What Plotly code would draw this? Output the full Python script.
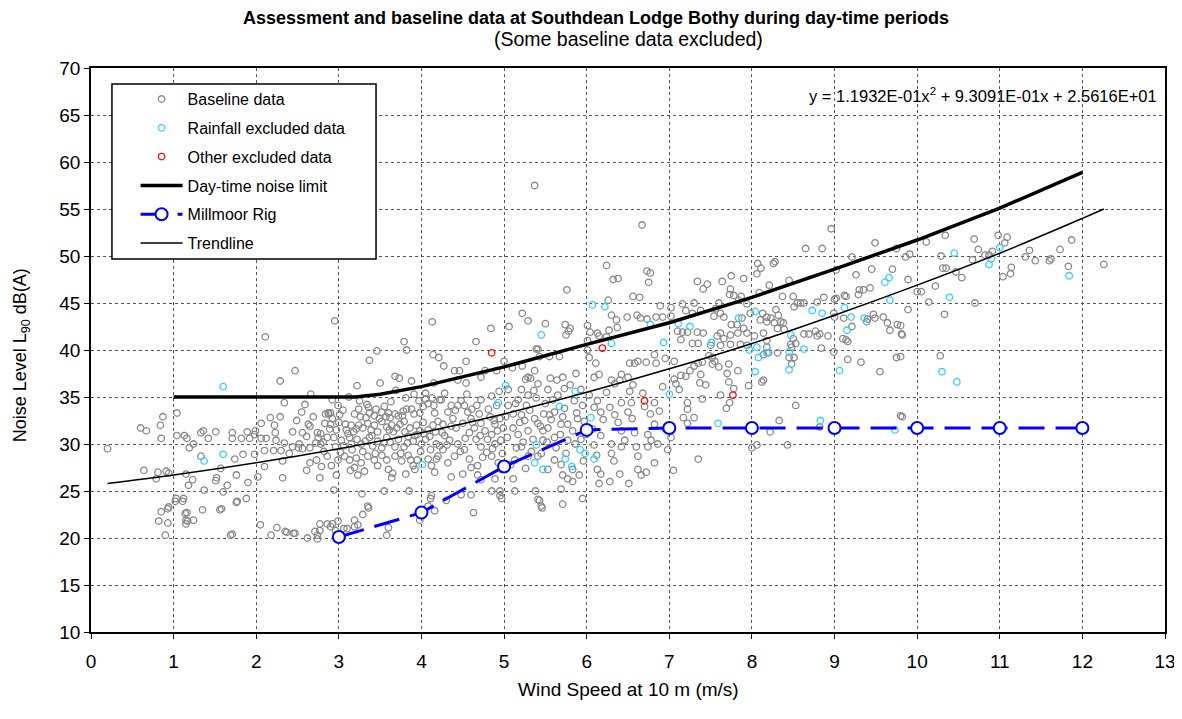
import plotly.graph_objects as go

# ---------------- data ----------------
baseline_pts = [
    # x < 1.6
    (0.20,29.5),(0.60,31.7),(0.67,31.4),(0.64,27.2),(0.79,26.3),(0.81,27.0),(0.84,32.0),(0.85,30.6),(0.87,32.9),
    (0.91,27.1),(0.94,26.9),(1.04,33.3),(1.04,30.9),(1.13,30.9),(1.16,30.6),(1.24,30.0),(1.19,29.6),(1.33,31.2),
    (1.36,31.4),(1.42,30.6),(1.51,31.3),(1.23,26.2),(1.18,25.6),(1.15,26.8),(1.12,24.2),(1.03,24.2),(0.94,23.3),
    (0.85,22.8),(0.82,21.8),(0.93,21.6),(0.90,20.3),(1.16,22.7),(1.15,21.9),(1.15,21.5),(1.24,21.9),(1.35,23.0),
    (1.37,25.1),(1.52,26.4),(1.51,26.1),(1.58,23.1),(1.33,28.7),(1.57,27.4),(1.60,24.9),(0.93,23.1),(1.02,23.9),
    (1.11,23.9),(1.14,22.6),(1.56,23.0),(1.69,20.3),(1.76,23.8),(1.17,21.8),
    # x 1.6 - 4.2
    (2.95,43.1),(2.11,41.4),(3.46,39.9),(3.37,38.9),(2.47,37.8),(2.29,36.7),(2.66,35.3),(2.34,34.4),(2.59,34.2),
    (3.12,35.0),(3.22,36.2),(3.68,37.2),(3.73,37.0),(3.88,36.7),(3.50,36.5),(3.69,35.7),(3.81,34.9),(3.91,35.3),
    (4.05,35.4),(4.15,36.5),(4.13,34.9),(2.92,34.7),(3.34,34.2),
    (2.87,33.3),(2.90,33.3),(3.01,33.1),(2.92,32.7),(3.19,33.2),(3.24,33.7),(3.26,32.9),(3.36,33.9),(3.37,33.3),
    (3.43,33.0),(3.45,33.7),(3.52,33.4),(3.55,34.0),(3.57,32.9),(3.60,33.3),(3.62,32.8),(3.68,33.2),(3.72,33.0),
    (3.78,33.5),(3.82,33.7),(3.88,33.7),(3.91,33.2),(3.98,33.3),(4.02,34.0),(4.05,34.8),(4.08,34.3),(4.15,34.1),
    (4.16,33.3),(4.22,34.7),(2.84,33.2),(2.88,33.2),(2.17,32.8),(2.29,32.9),(2.49,32.5),(2.06,32.2),(2.22,32.0),
    (2.63,32.1),(2.65,31.9),
    (2.83,32.2),(2.90,32.1),(2.97,31.5),(3.00,32.3),(3.08,32.1),(3.09,31.5),(3.15,32.0),(3.18,31.3),(3.24,32.0),
    (3.29,31.7),(3.35,32.2),(3.39,31.5),(3.43,32.0),(3.47,31.3),(3.52,32.4),(3.58,31.8),(3.64,32.0),(3.66,31.3),
    (3.74,32.1),(3.79,32.4),(3.80,31.3),(3.86,31.7),(3.94,32.0),(3.98,31.4),(4.02,32.3),(4.08,31.5),(4.14,32.0),
    (4.20,32.4),
    (1.71,31.2),(1.71,30.6),(1.82,30.6),(1.89,31.3),(1.92,30.6),(1.99,31.4),(1.98,31.0),(2.06,30.6),(2.12,30.6),
    (2.23,31.2),(2.24,30.4),(2.34,30.1),(2.44,31.3),(2.56,31.2),(2.52,30.0),(2.44,29.7),(2.74,31.2),(2.78,31.1),
    (2.72,30.1),(2.78,30.0),
    (2.75,30.7),(2.81,30.2),(2.86,30.7),(2.94,30.7),(2.96,29.7),(3.03,30.4),(3.06,29.8),(3.13,30.7),(3.15,30.0),
    (3.22,30.5),(3.27,30.0),(3.32,30.3),(3.37,30.7),(3.41,29.8),(3.47,30.3),(3.52,29.6),(3.58,30.7),(3.62,30.2),
    (3.68,29.7),(3.72,30.5),(3.79,29.7),(3.84,30.8),(3.90,30.3),(3.95,31.0),(4.00,30.0),(4.05,30.5),(4.10,30.8),
    (4.18,30.0),(4.22,29.8),
    (2.65,29.6),(2.56,29.5),(2.51,29.6),(2.40,29.0),(2.30,29.3),(2.21,29.3),(2.10,29.3),(1.98,28.9),(1.84,28.9),
    (1.74,28.4),(2.10,27.6),(2.32,28.2),(2.65,28.0),(2.73,28.3),(2.79,27.6),(2.86,28.7),(2.91,27.7),(2.99,28.3),
    (2.97,26.7),(3.07,28.7),(3.13,28.3),(3.14,27.2),(3.21,28.5),(3.19,27.5),(3.27,28.0),(3.31,27.1),(3.35,28.7),
    (3.43,28.3),(3.47,27.7),(3.52,28.8),(3.58,28.3),(3.60,27.3),(3.65,26.9),(3.68,28.7),(3.76,28.2),(3.81,26.8),
    (3.84,28.8),(3.90,27.7),(3.95,28.3),(3.99,29.2),(4.08,28.4),(4.12,27.7),(4.18,28.4),(4.16,27.0),
    (2.55,33.4),(2.61,30.8),(2.69,32.9),(2.82,29.2),(2.89,31.6),(3.02,29.1),(3.05,33.6),(3.11,31.1),(3.16,29.4),
    (3.21,31.6),(3.29,29.2),(3.33,32.8),(3.40,30.9),(3.44,29.0),(3.49,32.7),(3.55,30.1),(3.61,31.5),(3.70,31.7),
    (3.75,29.0),(3.77,33.0),(3.83,30.1),(3.92,30.9),(3.97,34.6),(4.03,31.1),(4.11,29.4),(4.17,31.3),(3.25,34.6),
    (3.63,34.5),(2.99,34.1),(3.87,28.3),
    (1.76,26.7),(1.65,25.6),(1.90,25.9),(2.02,26.5),(2.32,26.4),(2.61,27.2),(2.77,26.4),(2.94,25.1),(3.23,26.7),
    (3.28,24.7),(3.55,25.0),(3.64,26.4),(3.85,25.0),(3.92,27.3),(1.77,23.9),(1.88,24.2),(3.35,23.4),(4.12,24.5),
    (1.71,20.4),(2.05,21.4),(2.18,20.3),(2.25,21.1),(2.35,20.7),(2.37,20.6),(2.45,20.5),(2.47,20.5),(2.62,20.0),
    (2.74,19.9),(2.74,20.3),(2.71,20.7),(2.77,20.8),(2.77,21.5),(2.86,21.5),(2.90,21.2),(2.92,21.5),(2.99,21.8),
    (2.96,20.8),(3.06,21.0),(3.10,21.0),(3.19,21.2),(3.19,21.9),(3.23,21.4),(3.29,22.5),(3.36,23.2),(3.60,21.1),
    (3.58,20.3),(3.98,21.9),(4.08,23.4),(4.16,22.9),(4.11,24.2),
    # x 4.2 - 7
    (5.37,57.5),(6.67,53.3),(6.24,49.0),(6.73,48.4),(6.77,48.2),(6.32,47.5),(6.38,47.6),(6.75,47.2),(5.76,46.4),
    (6.56,45.7),(6.64,45.6),(6.26,45.3),(6.30,43.7),(6.36,43.2),(6.49,43.5),(6.61,43.7),(6.65,43.4),(6.73,43.3),
    (6.84,43.5),(6.92,43.5),(7.02,43.6),(6.89,44.7),(7.02,44.5),(5.22,43.9),(5.29,43.1),(5.50,42.8),(5.74,42.7),
    (5.78,42.0),(5.75,41.6),(5.80,42.3),(6.01,42.6),(6.04,41.9),(6.13,41.8),(6.15,41.5),(6.24,41.4),(6.27,42.1),
    (6.37,42.4),(6.01,41.0),(6.01,40.0),(5.06,42.5),(4.84,42.3),(4.13,43.0),(3.79,40.9),(3.82,40.0),(4.66,40.9),
    (5.39,40.1),(5.41,40.1),(5.43,39.3),(5.55,39.3),(5.67,39.3),(4.14,39.5),(4.21,39.2),(4.27,38.3),(4.54,38.8),
    (4.40,37.8),(4.46,37.8),(4.91,37.8),(5.00,38.8),(5.10,38.1),(5.22,38.3),(5.29,37.1),(5.26,36.9),(5.32,37.0),
    (5.37,37.8),(5.56,37.0),(5.64,36.8),(5.71,37.1),(5.73,35.9),(5.87,37.5),(6.03,39.2),(6.11,38.6),(6.09,37.1),
    (6.15,37.4),(6.30,36.8),(6.34,36.4),(6.40,36.8),(6.52,38.6),(6.58,38.6),(6.62,38.8),(6.72,38.7),(6.82,39.5),
    (6.84,38.6),(6.95,39.1),(7.06,38.8),(6.50,37.1),(6.56,36.3),(6.52,35.6),(6.42,37.4),(6.92,36.1),(7.08,36.4),
    (6.54,34.4),(6.77,33.2),(6.82,34.4),(6.70,34.0),(7.06,36.9),(4.44,36.8),(4.77,37.8),(4.72,37.1),(4.54,36.5),
    (4.24,34.7),(4.36,34.1),(4.52,34.1),(4.61,33.7),(4.72,34.7),(4.85,35.1),(4.91,34.1),(5.05,34.1),(5.17,34.7),
    (5.21,33.1),(5.27,34.1),(5.29,35.2),(5.39,34.9),(5.48,33.2),(5.61,33.4),(5.71,32.9),(5.85,34.6),(5.95,34.1),
    (6.09,33.9),(6.13,34.6),(6.17,33.4),(6.28,33.9),(6.34,33.1),(6.42,34.4),(6.50,33.4),(4.60,32.7),(4.72,32.2),
    (4.89,32.1),(4.99,31.7),(5.11,31.7),(5.25,32.5),(5.37,32.7),(5.41,32.2),(5.47,31.4),(5.55,33.1),(5.69,32.1),
    (5.83,31.4),(5.93,30.5),(5.99,31.0),(6.09,29.9),(6.17,30.9),(6.30,30.0),(6.42,31.4),(6.58,31.2),(6.74,31.0),
    (6.86,30.0),(7.02,30.7),(6.82,32.1),
    (4.28,35.4),(4.32,33.4),(4.38,32.7),(4.42,31.7),(4.48,34.6),(4.50,32.2),(4.56,33.4),(4.58,31.2),(4.64,31.7),
    (4.66,30.5),(4.70,33.2),(4.77,31.4),(4.80,30.5),(4.83,32.9),(4.85,31.0),(4.92,31.4),(4.95,32.7),(4.96,30.4),
    (4.28,30.9),(4.34,30.4),(4.44,30.0),(4.26,32.1),(4.44,34.1),(4.26,29.4),(4.40,28.7),(4.52,29.4),(4.58,28.4),
    (4.72,29.7),(4.79,29.1),(4.89,30.0),(5.05,35.8),(5.11,33.2),(5.17,31.0),(5.29,31.4),(5.35,30.5),(5.53,31.7),
    (5.61,30.7),(5.77,32.1),(5.77,30.4),(5.89,32.7),(5.21,35.8),(5.53,35.8),(5.59,34.7),(5.93,35.8),(5.41,36.4),
    (4.25,31.2),(4.31,29.9),(4.36,31.9),(4.41,33.6),(4.47,29.2),(4.53,30.6),(4.55,35.3),(4.62,32.3),(4.67,34.1),
    (4.71,30.9),(4.74,28.6),(4.81,33.7),(4.86,29.5),(4.88,32.5),(4.94,35.6),(4.98,29.0),(5.02,32.9),(5.04,30.7),
    (5.08,27.8),(5.14,34.3),(5.15,29.6),(5.19,32.3),(5.23,30.2),(5.26,27.4),(5.31,33.6),(5.33,29.2),(5.36,35.7),
    (5.44,31.9),(5.45,29.0),(5.50,34.3),(5.52,30.2),(5.57,32.6),(5.63,29.6),(5.65,35.2),(5.68,31.0),(5.73,33.8),
    (5.75,29.0),(5.80,36.3),(5.86,30.0),(5.88,33.3),(5.96,28.2),(5.97,32.4),(6.03,35.2),(6.07,31.6),(6.12,28.8),
    (6.20,32.6),(6.24,35.5),(6.33,28.2),(6.38,32.3),(6.46,30.4),(6.55,32.7),(6.60,29.7),(6.68,35.4),(6.78,30.4),
    (6.88,33.5),(6.95,31.6),
    (4.20,28.7),(4.32,28.0),(4.36,26.5),(4.50,26.8),(4.60,27.5),(4.68,27.7),(4.85,28.7),(4.93,28.0),(4.68,26.7),
    (4.72,26.2),(4.89,26.3),(4.97,27.3),(5.11,26.3),(5.13,28.3),(5.21,29.7),(5.29,28.7),(5.41,28.7),(5.47,30.4),
    (5.53,27.3),(5.61,28.3),(5.69,27.8),(5.71,26.7),(5.83,27.3),(5.77,26.3),(5.83,26.0),(5.91,26.7),(6.13,27.3),
    (6.15,25.8),(6.17,26.8),(6.28,26.0),(6.40,26.8),(6.51,25.8),(6.62,27.3),(6.66,26.7),(6.72,27.0),(6.30,29.0),
    (6.42,29.7),(6.62,28.7),(6.74,29.7),(6.82,28.0),(6.98,29.4),(7.05,27.2),(4.30,24.0),(4.48,24.6),(4.60,24.6),
    (4.85,25.0),(4.95,25.0),(4.95,24.5),(5.13,25.0),(5.38,25.0),(5.41,24.1),(5.45,23.4),(5.71,23.6),(5.69,25.2),
    (5.95,24.2),(4.63,22.7),(4.97,24.2),(5.43,24.0),(5.46,23.2),
    # x 7 - 9.8
    (8.96,52.9),(8.65,50.8),(8.85,50.8),(9.49,51.4),(9.75,50.8),(9.21,49.9),(9.02,48.5),(9.26,48.0),(9.45,48.6),
    (9.70,48.6),(9.30,46.4),(9.35,46.4),(9.29,45.9),(9.43,46.6),(9.12,45.8),(9.14,45.7),(9.00,45.4),(9.02,45.5),
    (8.87,45.6),(8.79,45.1),(8.63,45.0),(8.55,45.0),(8.59,45.0),(8.51,44.6),(8.50,45.7),(8.37,45.7),(8.45,47.4),
    (8.21,46.9),(8.09,46.1),(8.07,49.2),(8.11,48.7),(8.06,48.1),(8.28,49.4),(8.26,49.2),(7.90,47.6),(7.75,47.9),
    (7.64,47.3),(7.74,46.5),(7.46,47.0),(7.41,46.5),(7.34,47.3),(7.60,45.0),(7.73,45.9),(7.78,45.8),(7.87,45.7),
    (7.84,45.3),(7.56,44.4),(7.62,43.9),(7.54,43.6),(7.66,43.5),(7.30,45.0),(7.38,44.2),(7.28,43.9),(7.20,44.2),
    (7.16,44.9),(7.94,44.9),(7.98,43.9),(7.88,43.4),(7.90,42.3),(7.82,42.7),(7.75,42.7),(7.94,41.8),(7.83,41.8),
    (7.74,41.6),(7.66,41.2),(7.62,41.8),(7.58,41.5),(7.41,41.8),(7.34,41.9),(7.22,41.9),(7.16,41.9),(7.10,42.0),
    (8.13,43.9),(8.18,43.5),(8.29,44.3),(8.32,43.7),(8.27,42.9),(8.18,43.0),(8.35,43.0),(8.38,42.9),(8.39,42.2),
    (8.31,42.3),(8.23,43.4),(8.10,43.2),(8.14,41.8),(8.18,41.0),(8.18,40.3),(8.20,39.7),(8.14,39.5),(8.31,39.7),
    (8.03,41.5),(7.94,40.5),(7.86,40.6),(7.74,40.6),(7.62,40.5),(7.50,40.5),(7.35,40.7),(7.28,40.7),(7.14,41.1),
    (8.50,41.2),(8.47,40.6),(8.53,40.7),(8.48,40.3),(8.51,39.2),(8.45,39.2),(8.48,38.5),(8.63,41.7),(8.69,41.7),
    (8.77,42.0),(8.79,41.5),(8.82,41.7),(8.92,41.5),(8.84,40.2),(8.99,39.8),(9.16,39.0),(9.32,38.7),(8.99,43.9),
    (9.00,43.5),(9.11,43.4),(9.10,41.2),(9.14,41.1),(9.16,40.9),(9.21,42.5),(9.40,43.3),(9.39,43.0),(9.47,43.8),
    (9.49,43.4),(9.59,43.5),(9.64,42.9),(9.67,42.1),(9.76,42.7),(9.81,41.7),(9.75,39.2),(9.55,37.7),(7.40,38.7),
    (7.35,38.6),(7.30,38.3),(7.25,37.8),(7.20,37.2),(7.14,37.3),(7.12,35.8),(7.52,38.5),(7.52,39.2),(7.48,39.4),
    (7.55,38.8),(7.60,38.2),(7.72,38.5),(7.70,37.5),(7.83,37.8),(7.72,36.6),(7.78,35.9),(7.62,35.2),(7.73,34.4),
    (7.69,33.8),(7.40,34.8),(7.22,34.4),(7.22,33.7),(7.17,32.8),(7.22,32.2),(7.30,32.8),(7.37,36.5),(7.44,36.3),
    (7.38,37.4),(8.14,36.8),(8.12,36.6),(7.96,36.2),(8.53,34.1),(8.33,32.5),(8.22,31.3),(8.06,29.9),(8.00,29.6),
    (8.43,29.9),(8.82,31.8),(9.80,33.0),(7.35,28.4),
    # x > 9.8
    (10.34,52.2),(10.11,51.5),(10.69,51.8),(10.98,52.2),(11.09,52.0),(11.06,51.4),(10.74,50.7),(10.82,50.1),
    (10.91,50.5),(10.87,50.1),(10.67,49.6),(10.29,50.0),(9.86,49.9),(9.91,50.2),(10.31,48.7),(10.35,48.7),
    (10.47,48.3),(10.54,47.7),(9.89,47.5),(10.22,46.8),(10.00,46.2),(10.05,46.2),(10.14,45.1),(10.70,45.0),
    (9.89,44.3),(10.33,43.8),(9.80,42.6),(9.82,41.6),(10.28,39.4),(9.80,39.3),(9.82,32.9),(11.36,50.6),
    (11.31,49.9),(11.43,49.5),(11.60,49.5),(11.62,49.7),(11.73,50.7),(11.87,51.7),(11.83,48.9),(11.14,48.8),
    (11.04,47.8),(11.13,48.1),(12.26,49.1),
]

rainfall_pts = [
    (1.60,36.1),(1.60,28.9),(1.37,28.2),(4.01,27.8),(6.07,44.8),(6.22,44.6),(5.45,41.6),(6.77,42.7),(6.93,40.8),
    (6.30,40.7),(5.02,36.2),(4.93,34.4),(5.86,35.6),(5.67,34.0),(6.05,32.8),(7.00,35.3),(5.39,29.9),(5.37,28.0),
    (5.47,27.3),(5.74,28.4),(5.82,27.6),(5.92,29.4),(5.98,29.0),(6.09,28.4),(9.66,47.7),(9.61,47.2),(9.67,45.3),
    (9.12,44.5),(9.20,43.5),(9.36,43.4),(9.15,42.1),(8.85,43.9),(8.73,44.2),(8.47,41.6),(8.63,40.1),(8.45,39.8),
    (8.45,37.9),(9.06,37.8),(7.84,43.4),(8.04,44.1),(7.97,40.0),(8.06,40.3),(8.08,39.2),(8.18,39.7),(8.04,37.7),
    (7.51,40.8),(7.11,42.8),(7.25,42.5),(7.59,32.2),(8.83,32.5),(9.73,31.5),(10.45,50.3),(11.00,50.9),
    (10.90,49.7),(10.87,49.1),(10.39,45.6),(11.84,47.9),(10.30,37.7),(10.48,36.6),
]

other_pts = [(4.85,39.7),(6.19,40.2),(6.70,34.6),(7.77,35.2)]

limit_x = [1, 2, 3, 3.2, 3.5, 4, 5, 6, 7, 8, 9, 10, 11, 12]
limit_y = [35, 35, 35, 35, 35.3, 36.1, 38.2, 40.6, 42.9, 45.6, 48.6, 51.7, 55.1, 58.9]

millmoor_x = [3, 4, 5, 6, 7, 8, 9, 10, 11, 12]
millmoor_y = [20.1, 22.7, 27.6, 31.5, 31.7, 31.7, 31.7, 31.7, 31.7, 31.7]

trend_x = [0.2, 1, 2, 3, 4, 5, 6, 7, 8, 9, 10, 11, 12, 12.26]
trend_y = [25.8, 26.7, 28.0, 29.5, 31.2, 33.2, 35.5, 38.0, 40.7, 43.7, 46.9, 50.3, 54.0, 55.0]

x_ticks = list(range(0, 14))
y_ticks = list(range(10, 71, 5))

title_text = "<b>Assessment and baseline data at Southdean Lodge Bothy during day-time periods</b>"
subtitle_text = "(Some baseline data excluded)"
equation_text = "y = 1.1932E-01x<sup>2</sup> + 9.3091E-01x + 2.5616E+01"

# ---------------- figure ----------------
FONT = "Arial, Liberation Sans, sans-serif"
fig = go.Figure()

def open_marker(color, size=6.5):
    return dict(symbol="circle-open", size=size, color=color, line=dict(width=1.3, color=color))

fig.add_trace(go.Scatter(x=[p[0] for p in baseline_pts], y=[p[1] for p in baseline_pts], mode="markers",
                         name="Baseline data", marker=open_marker("#888888"), legendgroup="a"))
fig.add_trace(go.Scatter(x=[p[0] for p in rainfall_pts], y=[p[1] for p in rainfall_pts], mode="markers",
                         name="Rainfall excluded data", marker=open_marker("#33ccff"), legendgroup="b"))
fig.add_trace(go.Scatter(x=[p[0] for p in other_pts], y=[p[1] for p in other_pts], mode="markers",
                         name="Other excluded data", marker=open_marker("#ff0000"), legendgroup="c"))
fig.add_trace(go.Scatter(x=limit_x, y=limit_y, mode="lines", name="Day-time noise limit",
                         line=dict(color="black", width=3.5), legendgroup="d"))
fig.add_trace(go.Scatter(x=millmoor_x, y=millmoor_y, mode="lines+markers", name="Millmoor Rig",
                         line=dict(color="#0000ff", width=3, dash="26px,11px"),
                         marker=dict(symbol="circle", size=12, color="white", line=dict(color="#0000ff", width=2)),
                         legendgroup="e"))
fig.add_trace(go.Scatter(x=trend_x, y=trend_y, mode="lines", name="Trendline", line_shape="spline",
                         line=dict(color="black", width=1.5), legendgroup="f"))

axis_common = dict(showline=True, linecolor="black", linewidth=1.5, mirror=True,
                   ticks="outside", ticklen=5, tickcolor="black",
                   showgrid=True, gridcolor="#555555", gridwidth=1, griddash="dot",
                   zeroline=False, tickfont=dict(family=FONT, size=19, color="black"))
fig.update_xaxes(range=[0, 13], tickvals=x_ticks, ticklabelstandoff=6, **axis_common)
fig.update_yaxes(range=[10, 70], tickvals=y_ticks, **axis_common)

fig.update_layout(
    width=1182, height=719,
    margin=dict(l=83, r=25, t=60, b=95),
    paper_bgcolor="white", plot_bgcolor="white",
    font=dict(family=FONT, color="black"),
    showlegend=True,
    legend=dict(x=0.0415, y=0.975, xanchor="left", yanchor="top", bgcolor="rgba(0,0,0,0)",
                borderwidth=0, font=dict(family=FONT, size=16, color="black"),
                tracegroupgap=5, itemwidth=42),
    shapes=[dict(type="rect", xref="paper", yref="paper", x0=0.0195, x1=0.2654, y0=0.6613, y1=0.9716,
                 line=dict(color="black", width=1.5), fillcolor="white", layer="above")],
    annotations=[
        dict(text=title_text, xref="paper", yref="paper", x=0.4705, y=1.0895, showarrow=False,
             xanchor="center", yanchor="middle", font=dict(family=FONT, size=18, color="black")),
        dict(text=subtitle_text, xref="paper", yref="paper", x=0.5, y=1.051, showarrow=False,
             xanchor="center", yanchor="middle", font=dict(family=FONT, size=19.5, color="black")),
        dict(text=equation_text, xref="paper", yref="paper", x=0.9945, y=0.952, showarrow=False,
             xanchor="right", yanchor="middle", font=dict(family=FONT, size=16.5, color="black")),
        dict(text="Noise Level L<sub>90</sub> dB(A)", xref="paper", yref="paper", x=-0.0649, y=0.491,
             showarrow=False, textangle=-90, xanchor="center", yanchor="middle",
             font=dict(family=FONT, size=18, color="black")),
        dict(text="Wind Speed at 10 m (m/s)", xref="paper", yref="paper", x=0.5, y=-0.1028,
             showarrow=False, xanchor="center", yanchor="middle",
             font=dict(family=FONT, size=19, color="black")),
    ],
)

fig.write_html("out.html")
